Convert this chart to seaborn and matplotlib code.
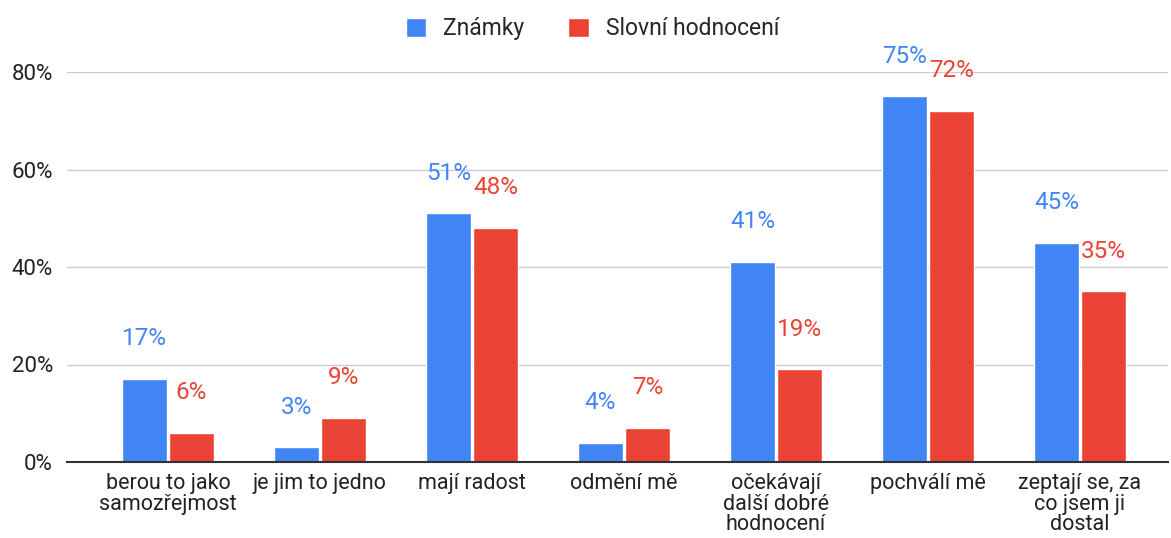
import numpy as np
import pandas as pd
import matplotlib
matplotlib.use("Agg")
import matplotlib.pyplot as plt
import seaborn as sns

categories = [
    "berou to jako\nsamozřejmost",
    "je jim to jedno",
    "mají radost",
    "odmění mě",
    "očekávají\ndalší dobré\nhodnocení",
    "pochválí mě",
    "zeptají se, za\nco jsem ji\ndostal",
]
znamky = [17, 3, 51, 4, 41, 75, 45]
slovni = [6, 9, 48, 7, 19, 72, 35]
series_names = ["Známky", "Slovní hodnocení"]
colors = ["#4285F4", "#EA4335"]
yticks = [0, 20, 40, 60, 80]

df = pd.DataFrame({
    "kategorie": categories * 2,
    "hodnota": znamky + slovni,
    "serie": [series_names[0]] * len(categories) + [series_names[1]] * len(categories),
})

sns.set_style("white")
plt.rcParams["font.family"] = ["Roboto", "DejaVu Sans"]

fig = plt.figure(figsize=(11.71, 5.38), dpi=100)
ax = fig.add_axes([67 / 1171, 1 - 462 / 538, (1168 - 67) / 1171, (462 - 72) / 538])

sns.barplot(data=df, x="kategorie", y="hodnota", hue="serie", palette=colors,
            saturation=1, width=0.62, gap=0.05, ax=ax, zorder=3)

ax.set_ylim(0, 80)
ax.set_xlim((67 - 168) / 152, (1168 - 168) / 152)
ax.set_yticks(yticks)
ax.set_yticklabels([f"{v}%" for v in yticks])
ax.grid(axis="y", color="#cccccc", linewidth=1, zorder=0)
ax.set_xlabel("")
ax.set_ylabel("")
for s in ["top", "right", "left"]:
    ax.spines[s].set_visible(False)
ax.spines["bottom"].set_color("#333333")
ax.spines["bottom"].set_linewidth(1.5)
ax.spines["bottom"].set_zorder(4)
ax.tick_params(axis="y", length=0, labelsize=16, colors="#222222", pad=10)
ax.tick_params(axis="x", length=0, labelsize=15.5, colors="#222222", pad=8)
for lbl in ax.get_xticklabels():
    lbl.set_linespacing(0.98)

for container, col in zip(ax.containers, colors):
    for bar in container:
        h = bar.get_height()
        ax.annotate(f"{h:.0f}%", (bar.get_x() + bar.get_width() / 2, h),
                    xytext=(0, 29), textcoords="offset points",
                    ha="center", va="center", fontsize=17.5, color=col,
                    annotation_clip=False, zorder=5)

handles, labels = ax.get_legend_handles_labels()
ax.legend(handles, labels, loc="upper center", bbox_to_anchor=(0.506, 1.0),
          bbox_transform=fig.transFigure, ncol=2, frameon=False, fontsize=16.5,
          handlelength=0.9, handleheight=0.9, handletextpad=0.75, columnspacing=1.9,
          borderaxespad=0.35)

fig.savefig("out.png", dpi=100)
